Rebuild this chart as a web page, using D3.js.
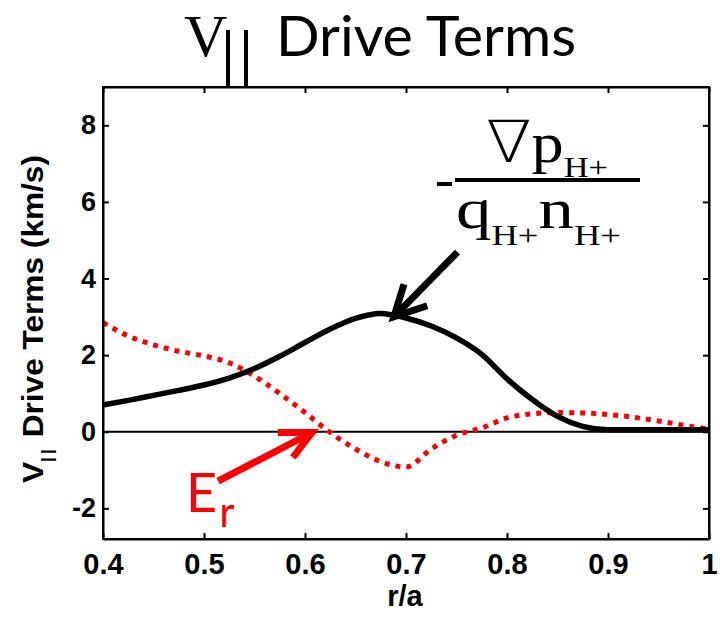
<!DOCTYPE html>
<html>
<head>
<meta charset="utf-8">
<script src="https://cdn.jsdelivr.net/npm/d3@7"></script>
<style>
  body { margin: 0; background: #fff; }
  .axis text { font-family: "Liberation Sans", Arial, sans-serif; font-weight: bold; fill: #000; }
  .axis path, .axis line { stroke: #000; stroke-width: 2; }
</style>
</head>
<body>
<div id="chart"></div>
<script>
// r/a grid shared by both curves
const rOverA = [0.4, 0.425, 0.45, 0.475, 0.5, 0.525, 0.55, 0.575, 0.6, 0.625, 0.65, 0.675,
  0.7, 0.725, 0.75, 0.775, 0.8, 0.825, 0.85, 0.875, 0.9, 0.925, 0.95, 0.975, 1.0];

// -grad p / (q n) term (black solid), km/s
const pressureTerm = [0.70, 0.82, 0.95, 1.08, 1.22, 1.40, 1.65, 1.97, 2.33, 2.68, 2.96, 3.09,
  2.97, 2.76, 2.45, 2.02, 1.38, 0.84, 0.40, 0.14, 0.05, 0.05, 0.05, 0.05, 0.05];

// Er term (red dotted), km/s
const erTerm = [2.85, 2.50, 2.27, 2.10, 1.98, 1.80, 1.45, 1.00, 0.50, -0.02, -0.45, -0.78,
  -0.92, -0.45, -0.09, 0.10, 0.36, 0.47, 0.50, 0.49, 0.45, 0.38, 0.28, 0.17, 0.07];

const xTicks = [0.4, 0.5, 0.6, 0.7, 0.8, 0.9, 1.0];
const xTickLabels = ["0.4", "0.5", "0.6", "0.7", "0.8", "0.9", "1"];
const yTicks = [-2, 0, 2, 4, 6, 8];
const yTickLabels = ["-2", "0", "2", "4", "6", "8"];

// annotation arrows in data units: [tail, tip, barb1, barb2]
const pressureArrow = [[0.751, 4.69], [0.688, 3.0], [0.698, 3.85], [0.721, 3.29]];
const erArrow = [[0.514, -1.29], [0.607, -0.02], [0.573, -0.02], [0.588, -0.67]];

class DriveTermsVis {
  constructor(_parentElement) {
    this.parentElement = _parentElement;
    this.initVis();
  }

  initVis() {
    let vis = this;

    vis.margin = { top: 87, right: 11, bottom: 79, left: 103 };
    vis.width = 720 - vis.margin.left - vis.margin.right;
    vis.height = 618 - vis.margin.top - vis.margin.bottom;

    vis.root = d3.select("#" + vis.parentElement)
      .append("svg")
      .attr("width", 720)
      .attr("height", 618);

    vis.svg = vis.root.append("g")
      .attr("transform", "translate(" + vis.margin.left + "," + vis.margin.top + ")");

    vis.x = d3.scaleLinear().domain([0.4, 1.0]).range([0, vis.width]);
    vis.y = d3.scaleLinear().domain([-2.8, 9]).range([vis.height, 0]);

    vis.svg.append("clipPath").attr("id", "clip")
      .append("rect").attr("width", vis.width).attr("height", vis.height);

    // zero line
    vis.svg.append("line")
      .attr("x1", 0).attr("x2", vis.width)
      .attr("y1", vis.y(0)).attr("y2", vis.y(0))
      .attr("stroke", "#000").attr("stroke-width", 2);

    vis.line = d3.line()
      .curve(d3.curveMonotoneX)
      .x(d => vis.x(d[0]))
      .y(d => vis.y(d[1]));

    vis.erPath = vis.svg.append("path")
      .attr("clip-path", "url(#clip)")
      .attr("fill", "none")
      .attr("stroke", "#ff0000")
      .attr("stroke-width", 5)
      .attr("stroke-dasharray", "5,6");

    vis.pressurePath = vis.svg.append("path")
      .attr("clip-path", "url(#clip)")
      .attr("fill", "none")
      .attr("stroke", "#000")
      .attr("stroke-width", 5.5)
      .attr("stroke-linejoin", "round");

    // axes with inward ticks on all four sides
    vis.xAxis = d3.axisBottom(vis.x).tickValues(xTicks)
      .tickFormat((d, i) => xTickLabels[i]).tickSizeInner(-6).tickSizeOuter(0).tickPadding(14);
    vis.yAxis = d3.axisLeft(vis.y).tickValues(yTicks)
      .tickFormat((d, i) => yTickLabels[i]).tickSizeInner(-6).tickSizeOuter(0).tickPadding(7);
    vis.xAxisTop = d3.axisTop(vis.x).tickValues(xTicks).tickFormat("").tickSizeInner(-6).tickSizeOuter(0);
    vis.yAxisRight = d3.axisRight(vis.y).tickValues(yTicks).tickFormat("").tickSizeInner(-6).tickSizeOuter(0);

    vis.svg.append("g").attr("class", "x-axis axis")
      .attr("transform", "translate(0," + vis.height + ")");
    vis.svg.append("g").attr("class", "y-axis axis");
    vis.svg.append("g").attr("class", "axis").call(vis.xAxisTop);
    vis.svg.append("g").attr("class", "axis")
      .attr("transform", "translate(" + vis.width + ",0)").call(vis.yAxisRight);

    // x axis title
    vis.root.append("text")
      .attr("x", 405).attr("y", 606)
      .attr("text-anchor", "middle")
      .style("font-family", "Liberation Sans, Arial, sans-serif")
      .style("font-weight", "bold")
      .style("font-size", "29px")
      .text("r/a");

    // y axis title
    let yTitle = vis.root.append("text")
      .attr("transform", "translate(43,483) rotate(-90)")
      .attr("textLength", 328)
      .attr("lengthAdjust", "spacingAndGlyphs")
      .style("font-family", "Liberation Sans, Arial, sans-serif")
      .style("font-weight", "bold")
      .style("font-size", "30px");
    yTitle.append("tspan").text("V");
    yTitle.append("tspan").attr("dy", 10).style("font-size", "16px")
      .style("letter-spacing", "3px").text("||");
    yTitle.append("tspan").attr("dy", -10).text(" Drive Terms (km/s)");

    // main title
    vis.root.append("text")
      .attr("x", 184).attr("y", 56)
      .style("font-family", "Liberation Serif, serif")
      .style("font-size", "60px")
      .text("V");
    [228, 246].forEach(function (bx) {
      vis.root.append("line")
        .attr("x1", bx).attr("x2", bx).attr("y1", 30).attr("y2", 88)
        .attr("stroke", "#000").attr("stroke-width", 4);
    });
    vis.root.append("text")
      .attr("x", 276).attr("y", 56)
      .attr("textLength", 300)
      .attr("lengthAdjust", "spacingAndGlyphs")
      .style("font-family", "Lato, 'Open Sans', sans-serif")
      .style("font-size", "56px")
      .text("Drive Terms");

    vis.drawAnnotations();
    vis.updateVis();
  }

  drawAnnotations() {
    let vis = this;

    let arrow = function (pts, color) {
      let p = pts.map(d => [vis.x(d[0]), vis.y(d[1])]);
      vis.svg.append("path")
        .attr("d", "M" + p[0] + "L" + p[1] + "M" + p[2] + "L" + p[1] + "L" + p[3])
        .attr("fill", "none")
        .attr("stroke", color)
        .attr("stroke-width", 7)
        .attr("stroke-linecap", "butt")
        .attr("stroke-linejoin", "miter");
    };
    arrow(pressureArrow, "#000");
    arrow(erArrow, "#ff0000");

    // pressure-gradient fraction
    let serif = "Liberation Serif, 'DejaVu Serif', serif";
    let num = vis.root.append("text")
      .attr("x", 486).attr("y", 162)
      .attr("textLength", 122).attr("lengthAdjust", "spacingAndGlyphs")
      .style("font-family", serif).style("font-size", "56px");
    num.append("tspan")
      .style("font-family", "'DejaVu Sans', sans-serif")
      .style("font-weight", "200")
      .style("font-size", "58px")
      .text("\u2207");
    num.append("tspan").text("p");
    num.append("tspan").attr("dy", 15).style("font-size", "30px").text("H+");

    vis.root.append("line")
      .attr("x1", 455).attr("x2", 640).attr("y1", 180).attr("y2", 180)
      .attr("stroke", "#000").attr("stroke-width", 4);
    vis.root.append("line")
      .attr("x1", 437).attr("x2", 452).attr("y1", 184).attr("y2", 184)
      .attr("stroke", "#000").attr("stroke-width", 4);

    let den = vis.root.append("text")
      .attr("x", 456).attr("y", 228)
      .attr("textLength", 165).attr("lengthAdjust", "spacingAndGlyphs")
      .style("font-family", serif).style("font-size", "58px");
    den.append("tspan").text("q");
    den.append("tspan").attr("dy", 17).style("font-size", "30px").text("H+");
    den.append("tspan").attr("dy", -17).text("n");
    den.append("tspan").attr("dy", 17).style("font-size", "30px").text("H+");

    // Er label
    let er = vis.root.append("text")
      .attr("x", 186).attr("y", 512)
      .style("font-family", "Lato, 'Open Sans', sans-serif")
      .style("font-size", "54px")
      .style("fill", "#ff0000");
    er.append("tspan").text("E");
    er.append("tspan").attr("dy", 15).attr("dx", 2).style("font-size", "42px").text("r");
  }

  updateVis() {
    let vis = this;

    vis.pressurePath.datum(rOverA.map((r, i) => [r, pressureTerm[i]])).attr("d", vis.line);
    vis.erPath.datum(rOverA.map((r, i) => [r, erTerm[i]])).attr("d", vis.line);

    vis.svg.select(".x-axis").call(vis.xAxis)
      .selectAll("text").style("font-size", "29px");
    vis.svg.select(".y-axis").call(vis.yAxis)
      .selectAll("text").style("font-size", "27px");

    // full box around the plot
    vis.svg.append("rect")
      .attr("width", vis.width).attr("height", vis.height)
      .attr("fill", "none").attr("stroke", "#000").attr("stroke-width", 2);
  }
}

new DriveTermsVis("chart");
</script>
</body>
</html>
